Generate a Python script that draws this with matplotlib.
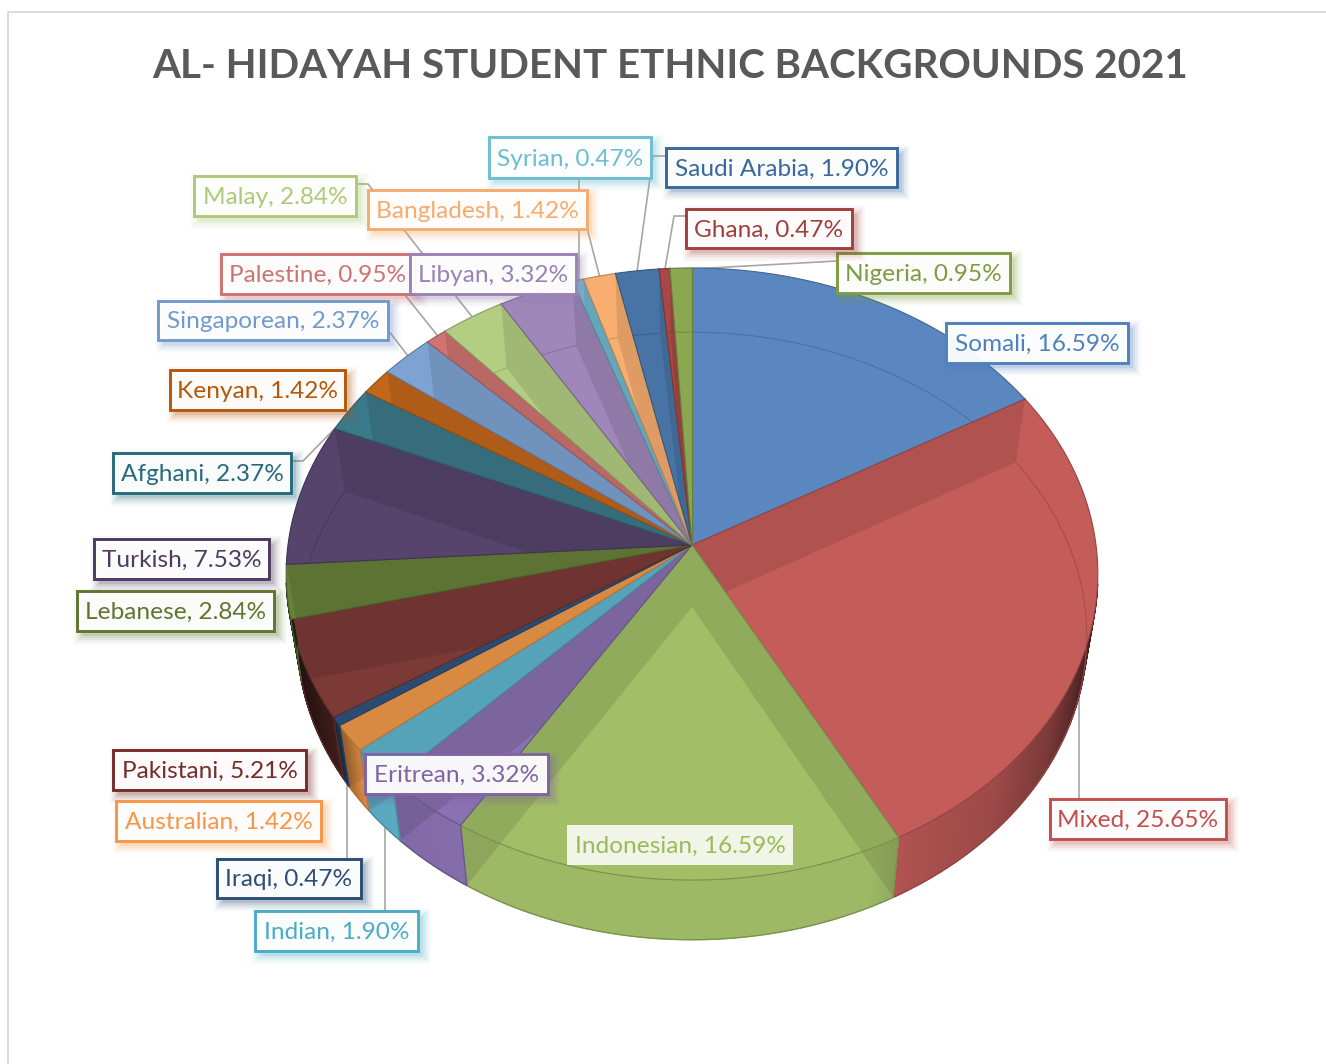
import numpy as np
import matplotlib
matplotlib.use("Agg")
import matplotlib.pyplot as plt
from matplotlib.colors import to_rgb
from matplotlib.patches import Polygon, Rectangle
from matplotlib.path import Path

categories = ["Somali", "Mixed", "Indonesian", "Eritrean", "Indian", "Australian", "Iraqi",
              "Pakistani", "Lebanese", "Turkish", "Afghani", "Kenyan", "Singaporean",
              "Palestine", "Malay", "Libyan", "Syrian", "Bangladesh", "Saudi Arabia",
              "Ghana", "Nigeria"]
percents = [16.59, 25.65, 16.59, 3.32, 1.90, 1.42, 0.47,
            5.21, 2.84, 7.53, 2.37, 1.42, 2.37,
            0.95, 2.84, 3.32, 0.47, 1.42, 1.90,
            0.47, 0.95]
face_colors = ["#5A87C0", "#C45C5A", "#A2BF68", "#8A71B2", "#5FB6CE", "#F29A4A", "#30547F",
               "#7C3A37", "#67803A", "#56446C", "#3B7A8A", "#C2671A", "#7DA3D2",
               "#CF7472", "#B3CD82", "#9F87BA", "#70BACF", "#F8AE70", "#4874A5",
               "#A84846", "#8AA84F"]
line_colors = ["#4F81BD", "#C0504D", "#9BBB59", "#8064A2", "#4BACC6", "#F79646", "#2C4D75",
               "#772C2A", "#5F7530", "#4D3B62", "#276A7C", "#B65708", "#729ACA",
               "#CD7371", "#AFC97A", "#9983B5", "#6FBDD1", "#F9AA6D", "#3A679C",
               "#A0403D", "#7F9C44"]

# label box edges: left, top, right, bottom
boxes = {
    "Somali": (946, 323, 1128, 363), "Mixed": (1050, 799, 1226, 839),
    "Indonesian": (567, 825, 793, 865), "Eritrean": (365, 754, 548, 794),
    "Indian": (255, 911, 418, 951), "Australian": (116, 801, 321, 841),
    "Iraqi": (217, 859, 361, 898), "Pakistani": (113, 750, 306, 790),
    "Lebanese": (77, 591, 274, 631), "Turkish": (94, 539, 269, 579),
    "Afghani": (113, 453, 291, 493), "Kenyan": (170, 370, 345, 410),
    "Singaporean": (158, 301, 388, 340), "Palestine": (221, 254, 415, 294),
    "Malay": (194, 176, 356, 216), "Libyan": (410, 254, 576, 294),
    "Syrian": (489, 137, 651, 178), "Bangladesh": (368, 190, 587, 229),
    "Saudi Arabia": (666, 148, 897, 187), "Ghana": (686, 209, 852, 248),
    "Nigeria": (837, 253, 1010, 293),
}
# the order labels are stacked in
box_order = ["Palestine", "Libyan", "Malay", "Singaporean", "Kenyan", "Afghani", "Turkish",
             "Lebanese", "Pakistani", "Australian", "Iraqi", "Indian", "Somali", "Mixed",
             "Nigeria", "Ghana", "Syrian", "Bangladesh", "Saudi Arabia", "Eritrean", "Indonesian"]

leaders = [
    [(837, 261), (692, 269)],
    [(686, 216), (674, 216), (665, 269)],
    [(666, 156), (653, 156), (637, 272)],
    [(579, 178), (579, 281)],
    [(587, 228), (600, 278)],
    [(356, 184), (368, 184), (473, 318)],
    [(405, 295), (437, 335)],
    [(388, 330), (408, 356)],
    [(291, 461), (303, 461), (352, 411)],
    [(347, 780), (347, 859)],
    [(385, 825), (385, 911)],
    [(1079, 690), (1079, 799)],
]

# disc projections: apex x/y, radius, vertical scale, perspective
TOP = (692, 545, 404, 303.3, 0.0948)
BOTTOM = (692, 607, 393, 301, 0.0954)
TOP_CY, TOP_RX, TOP_RY = 574, 406, 306


def project(theta, disc):
    ax0, ay0, r, s, k = disc
    u, v = np.sin(theta), np.cos(theta)
    w = 1 + k * v
    return ax0 + r * u / w, ay0 - s * v / w


def outside_top(x, y):
    return ((x - TOP[0]) / TOP_RX) ** 2 + ((y - TOP_CY) / TOP_RY) ** 2 > 1


def shaded(color, u):
    f = np.interp(u, [-1, -0.95, -0.85, -0.78, -0.5, 0.4, 0.5, 0.7, 0.85, 0.95, 1],
                  [0.25, 0.3, 0.5, 0.92, 0.97, 0.97, 0.88, 0.8, 0.62, 0.38, 0.3])
    return tuple(c * f for c in to_rgb(color))


fig = plt.figure(figsize=(13.26, 10.64), dpi=100)
ax = fig.add_axes([0, 0, 1, 1])
ax.set_xlim(0, 1326)
ax.set_ylim(1064, 0)
ax.axis("off")

# chart area border
ax.plot([8, 8, 1326], [1064, 12, 12], color="#D9D9D9", lw=1.3)

ax.text(670, 66, "AL- HIDAYAH STUDENT ETHNIC BACKGROUNDS 2021", ha="center", va="center",
        fontsize=29, fontweight="bold", color="#595959", family="Lato")

for pts in leaders:
    xs, ys = zip(*pts)
    ax.plot(xs, ys, color="#A6A6A6", lw=1.2, zorder=1)

edges = 2 * np.pi * np.concatenate([[0], np.cumsum(percents)]) / np.sum(percents)

for i, name in enumerate(categories):
    t0, t1 = edges[i], edges[i + 1]
    c = face_colors[i]
    ts = np.linspace(t0, t1, max(4, int((t1 - t0) / np.radians(0.4))))
    tx, ty = project(ts, TOP)
    bx, by = project(ts, BOTTOM)
    out = outside_top(bx, by)

    # outer wall, only where it shows below the top face
    for j in range(len(ts) - 1):
        if out[j] or out[j + 1]:
            col = shaded(c, np.sin((ts[j] + ts[j + 1]) / 2))
            ax.add_patch(Polygon([(tx[j], ty[j]), (tx[j + 1], ty[j + 1]),
                                  (bx[j + 1], by[j + 1]), (bx[j], by[j])],
                                 closed=True, fc=col, ec=col, lw=1.0, zorder=2))

    # top face
    top_pts = [(TOP[0], TOP[1])] + list(zip(tx, ty))
    ax.add_patch(Polygon(top_pts, closed=True, fc=c, ec="none", zorder=2))

    # silhouette of the slice, used to clip what is seen through the top
    outline = [(TOP[0], TOP[1]), (tx[0], ty[0])]
    for j in range(len(ts)):
        outline.append((bx[j], by[j]) if out[j] else (tx[j], ty[j]))
    outline += [(tx[-1], ty[-1])]
    clip = Path(outline + [outline[0]])

    # radial walls seen through the translucent top
    wall_col = tuple(v * 0.4 for v in to_rgb(c))
    for t in (t0, t1):
        x1, y1 = project(t, TOP)
        x2, y2 = project(t, BOTTOM)
        wall = Polygon([(TOP[0], TOP[1]), (x1, y1), (x2, y2), (BOTTOM[0], BOTTOM[1])],
                       closed=True, fc=wall_col, alpha=0.17, ec="none", zorder=2)
        ax.add_patch(wall)
        wall.set_clip_path(clip, transform=ax.transData)

    # far rim of the bottom disc, faint through the top
    dark = tuple(v * 0.75 for v in to_rgb(c))
    rim, = ax.plot(bx, by, color=dark, lw=0.8, alpha=0.6, zorder=2)
    rim.set_clip_path(clip, transform=ax.transData)

    # slice outlines
    ax.plot([TOP[0], tx[0]], [TOP[1], ty[0]], color=dark, lw=0.8, zorder=2)
    ax.plot([TOP[0], tx[-1]], [TOP[1], ty[-1]], color=dark, lw=0.8, zorder=2)
    ax.plot(tx, ty, color=dark, lw=0.8, zorder=2)
    ax.plot(bx[out], by[out], color=dark, lw=0.8, zorder=2)
    if out[0]:
        ax.plot([tx[0], bx[0]], [ty[0], by[0]], color=dark, lw=0.8, zorder=2)
    if out[-1]:
        ax.plot([tx[-1], bx[-1]], [ty[-1], by[-1]], color=dark, lw=0.8, zorder=2)

# data labels
for z, name in enumerate(box_order):
    i = categories.index(name)
    left, top, right, bottom = boxes[name]
    w, h = right - left, bottom - top
    col = line_colors[i]
    zo = 5 + z * 0.1
    if name == "Indonesian":
        ax.add_patch(Rectangle((left, top), w, h, fc="white", alpha=0.85, ec="none", zorder=zo))
    else:
        # soft drop shadow in the series colour
        for grow, alpha in ((8, 0.04), (6, 0.06), (4, 0.08), (2, 0.1), (0, 0.14)):
            ax.add_patch(Rectangle((left + 5 - grow, top + 5 - grow), w + 2 * grow, h + 2 * grow,
                                   fc=col, alpha=alpha, ec="none", zorder=zo))
        ax.add_patch(Rectangle((left, top), w, h, fc="white", alpha=0.95, ec="none", zorder=zo))
        ax.add_patch(Rectangle((left, top), w, h, fc="none", ec=col, lw=2.1, zorder=zo))
    ax.text((left + right) / 2, (top + bottom) / 2 + 1.5, f"{name}, {percents[i]:.2f}%",
            ha="center", va="center", fontsize=17.6, color=col, family="Lato", zorder=zo)

fig.savefig("out.png", dpi=100)
